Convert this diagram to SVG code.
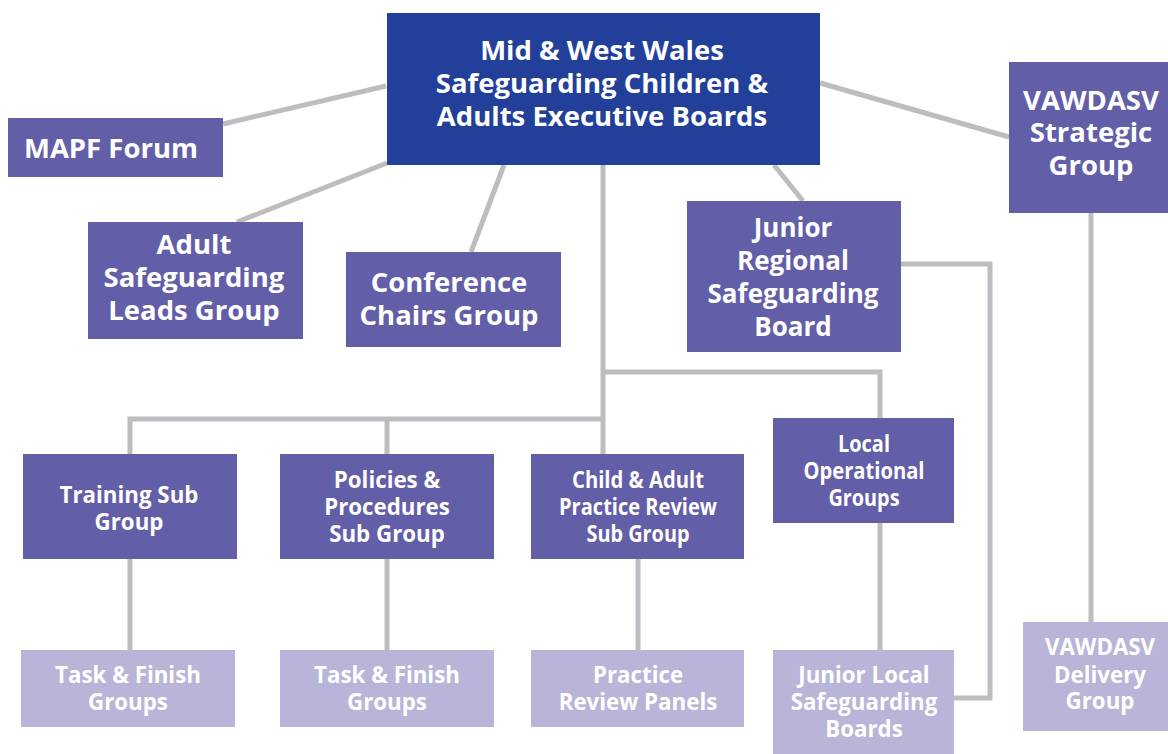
<svg xmlns="http://www.w3.org/2000/svg" width="1168" height="754" viewBox="0 0 1168 754">
<style>
.top{fill:#22409A}
.mid{fill:#635EA8}
.low{fill:#B8B5D9}
text{font-family:"Open Sans","Noto Sans","Liberation Sans",sans-serif;font-weight:700;fill:#FFFFFF;text-anchor:middle}
.t1{font-size:27.5px}
.t2{font-size:27.5px}
.t2s{font-size:26px}
.t3{font-size:22.3px}
.con{stroke:#BDBDC1;stroke-width:5;fill:none}
</style>
<rect width="1168" height="754" fill="#FFFFFF"/>
<g id="connectors">
<line class="con" x1="386" y1="86" x2="223" y2="124"/>
<line class="con" x1="387" y1="163" x2="237" y2="222"/>
<line class="con" x1="504" y1="165" x2="471" y2="252"/>
<line class="con" x1="774" y1="165" x2="803" y2="201"/>
<line class="con" x1="820" y1="83" x2="1009" y2="137"/>
<polyline class="con" points="603,165 603,454"/>
<polyline class="con" points="130,454 130,419 603,419"/>
<line class="con" x1="387" y1="419" x2="387" y2="454"/>
<polyline class="con" points="603,372 880,372 880,418"/>
<line class="con" x1="130" y1="559" x2="130" y2="650"/>
<line class="con" x1="387" y1="559" x2="387" y2="650"/>
<line class="con" x1="638" y1="559" x2="638" y2="650"/>
<line class="con" x1="880" y1="523" x2="880" y2="650"/>
<polyline class="con" points="901,264 990,264 990,698 953,698"/>
<line class="con" x1="1091" y1="213" x2="1091" y2="622"/>
</g>
<g id="main">
<rect class="top" x="387" y="13" width="433" height="152"/>
<text class="t1" x="602" y="60">Mid &amp; West Wales</text>
<text class="t1" x="602" y="93">Safeguarding Children &amp;</text>
<text class="t1" x="602" y="126">Adults Executive Boards</text>
</g>
<g id="mapf">
<rect class="mid" x="8" y="118" width="215" height="59"/>
<text class="t2" x="111" y="158">MAPF Forum</text>
</g>
<g id="adult-leads">
<rect class="mid" x="88" y="222" width="215" height="117"/>
<text class="t2" x="194" y="254">Adult</text>
<text class="t2" x="194" y="287">Safeguarding</text>
<text class="t2" x="194" y="320">Leads Group</text>
</g>
<g id="conference">
<rect class="mid" x="346" y="252" width="215" height="95"/>
<text class="t2" x="449" y="292">Conference</text>
<text class="t2" x="449" y="325">Chairs Group</text>
</g>
<g id="junior-regional">
<rect class="mid" x="687" y="201" width="214" height="151"/>
<text class="t2s" x="793" y="237">Junior</text>
<text class="t2s" x="793" y="270">Regional</text>
<text class="t2s" x="793" y="303">Safeguarding</text>
<text class="t2s" x="793" y="336">Board</text>
</g>
<g id="vawdasv-strategic">
<rect class="mid" x="1009" y="62" width="159" height="151"/>
<text class="t2" x="1091" y="110">VAWDASV</text>
<text class="t2" x="1091" y="142">Strategic</text>
<text class="t2" x="1091" y="175">Group</text>
</g>
<g id="training">
<rect class="mid" x="23" y="454" width="214" height="105"/>
<text class="t3" x="129" y="503">Training Sub</text>
<text class="t3" x="129" y="530">Group</text>
</g>
<g id="policies">
<rect class="mid" x="280" y="454" width="214" height="105"/>
<text class="t3" x="387" y="488">Policies &amp;</text>
<text class="t3" x="387" y="515">Procedures</text>
<text class="t3" x="387" y="542">Sub Group</text>
</g>
<g id="practice-review">
<rect class="mid" x="531" y="454" width="213" height="105"/>
<text class="t3" x="638" y="488" textLength="132" lengthAdjust="spacingAndGlyphs">Child &amp; Adult</text>
<text class="t3" x="638" y="515" textLength="158" lengthAdjust="spacingAndGlyphs">Practice Review</text>
<text class="t3" x="638" y="542" textLength="103" lengthAdjust="spacingAndGlyphs">Sub Group</text>
</g>
<g id="local-operational">
<rect class="mid" x="773" y="418" width="181" height="105"/>
<text class="t3" x="864" y="452" textLength="52" lengthAdjust="spacingAndGlyphs">Local</text>
<text class="t3" x="864" y="479" textLength="121" lengthAdjust="spacingAndGlyphs">Operational</text>
<text class="t3" x="864" y="506" textLength="71" lengthAdjust="spacingAndGlyphs">Groups</text>
</g>
<g id="task-finish-1">
<rect class="low" x="21" y="650" width="214" height="77"/>
<text class="t3" x="128" y="683">Task &amp; Finish</text>
<text class="t3" x="128" y="710">Groups</text>
</g>
<g id="task-finish-2">
<rect class="low" x="280" y="650" width="214" height="77"/>
<text class="t3" x="387" y="683">Task &amp; Finish</text>
<text class="t3" x="387" y="710">Groups</text>
</g>
<g id="practice-panels">
<rect class="low" x="531" y="650" width="213" height="77"/>
<text class="t3" x="638" y="683">Practice</text>
<text class="t3" x="638" y="710">Review Panels</text>
</g>
<g id="junior-local">
<rect class="low" x="773" y="650" width="181" height="104"/>
<text class="t3" x="864" y="683">Junior Local</text>
<text class="t3" x="864" y="710">Safeguarding</text>
<text class="t3" x="864" y="737">Boards</text>
</g>
<g id="vawdasv-delivery">
<rect class="low" x="1023" y="622" width="145" height="109"/>
<text class="t3" x="1100" y="655">VAWDASV</text>
<text class="t3" x="1100" y="683">Delivery</text>
<text class="t3" x="1100" y="709">Group</text>
</g>
</svg>
